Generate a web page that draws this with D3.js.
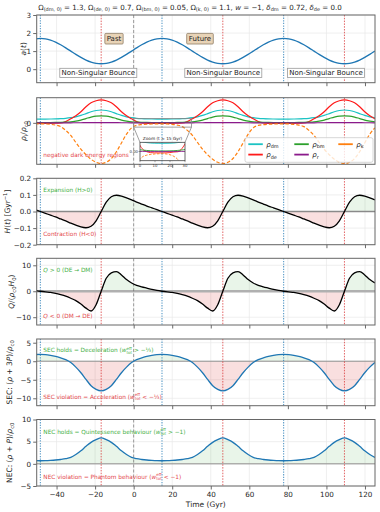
<!DOCTYPE html>
<html>
<head>
<meta charset="utf-8">
<script src="https://cdn.jsdelivr.net/npm/d3@7"></script>
<style>
body { margin: 0; background: #fff; }
svg text { font-family: "DejaVu Sans", sans-serif; }
</style>
</head>
<body>
<svg id="fig" width="380" height="512"></svg>
<script>
// cosmic time (Gyr)
var time = [-51.03,
  -48.40,-45.77,-43.14,-40.51,-37.88,-35.25,-32.62,-30.00,-27.37,-24.74,-22.11,-19.48,
  -16.85,-14.22,-11.59,-8.96,-6.33,-3.70,-1.07,1.55,4.18,6.81,9.44,12.07,
  14.70,17.33,19.96,22.59,25.22,27.85,30.48,33.11,35.73,38.36,40.99,43.62,
  46.25,48.88,51.51,54.14,56.77,59.40,62.03,64.66,67.28,69.91,72.54,75.17,
  77.80,80.43,83.06,85.69,88.32,90.95,93.58,96.21,98.84,101.46,104.09,106.72,
  109.35,111.98,114.61,117.24,119.87,122.50,125.13];

var scaleFactor = [1.676,
  1.70,1.676,1.606,1.495,1.35,1.181,1.0,0.819,0.65,0.505,0.394,0.324,
  0.30,0.324,0.394,0.505,0.65,0.819,1.0,1.181,1.35,1.495,1.606,1.676,
  1.70,1.676,1.606,1.495,1.35,1.181,1.0,0.819,0.65,0.505,0.394,0.324,
  0.30,0.324,0.394,0.505,0.65,0.819,1.0,1.181,1.35,1.495,1.606,1.676,
  1.70,1.676,1.606,1.495,1.35,1.181,1.0,0.819,0.65,0.505,0.394,0.324,
  0.30,0.324,0.394,0.505,0.65,0.819,1.0];

var rhoDM = [0.15,
  0.15,0.15,0.152,0.156,0.165,0.18,0.205,0.24,0.295,0.365,0.44,0.49,
  0.51,0.49,0.44,0.365,0.295,0.24,0.205,0.18,0.165,0.156,0.152,0.15,
  0.15,0.15,0.152,0.156,0.165,0.18,0.205,0.24,0.295,0.365,0.44,0.49,
  0.51,0.49,0.44,0.365,0.295,0.24,0.205,0.18,0.165,0.156,0.152,0.15,
  0.15,0.15,0.152,0.156,0.165,0.18,0.205,0.24,0.295,0.365,0.44,0.49,
  0.51,0.49,0.44,0.365,0.295,0.24,0.205];

var rhoDE = [-0.025,
  -0.025,-0.025,-0.02,-0.01,-0.005,0.05,0.16,0.28,0.44,0.64,0.8,0.88,
  0.91,0.88,0.8,0.64,0.44,0.28,0.16,0.05,0.0,-0.02,-0.025,-0.025,
  -0.025,-0.025,-0.02,-0.01,-0.005,0.05,0.16,0.28,0.44,0.64,0.8,0.88,
  0.91,0.88,0.8,0.64,0.44,0.28,0.16,0.05,0.0,-0.02,-0.025,-0.025,
  -0.025,-0.025,-0.02,-0.01,-0.005,0.05,0.16,0.28,0.44,0.64,0.8,0.88,
  0.91,0.88,0.8,0.64,0.44,0.28,0.16];

var rhoBM = [0.01,
  0.01,0.01,0.012,0.015,0.02,0.028,0.04,0.07,0.11,0.17,0.23,0.27,
  0.28,0.27,0.23,0.17,0.11,0.07,0.04,0.028,0.02,0.015,0.012,0.01,
  0.01,0.01,0.012,0.015,0.02,0.028,0.04,0.07,0.11,0.17,0.23,0.27,
  0.28,0.27,0.23,0.17,0.11,0.07,0.04,0.028,0.02,0.015,0.012,0.01,
  0.01,0.01,0.012,0.015,0.02,0.028,0.04,0.07,0.11,0.17,0.23,0.27,
  0.28,0.27,0.23,0.17,0.11,0.07,0.04];

var rhoR = [0.001,
  0.001,0.001,0.001,0.001,0.001,0.002,0.002,0.003,0.004,0.006,0.008,0.01,
  0.011,0.01,0.008,0.006,0.004,0.003,0.002,0.002,0.001,0.001,0.001,0.001,
  0.001,0.001,0.001,0.001,0.001,0.002,0.002,0.003,0.004,0.006,0.008,0.01,
  0.011,0.01,0.008,0.006,0.004,0.003,0.002,0.002,0.001,0.001,0.001,0.001,
  0.001,0.001,0.001,0.001,0.001,0.002,0.002,0.003,0.004,0.006,0.008,0.01,
  0.011,0.01,0.008,0.006,0.004,0.003,0.002];

var rhoK = [-0.042,
  -0.04,-0.045,-0.06,-0.09,-0.15,-0.3,-0.5,-0.78,-1.05,-1.27,-1.45,-1.57,
  -1.62,-1.57,-1.42,-1.15,-0.8,-0.45,-0.2,-0.1,-0.07,-0.055,-0.047,-0.042,
  -0.04,-0.045,-0.06,-0.09,-0.15,-0.3,-0.5,-0.78,-1.05,-1.27,-1.45,-1.57,
  -1.62,-1.57,-1.42,-1.15,-0.8,-0.45,-0.2,-0.1,-0.07,-0.055,-0.047,-0.042,
  -0.04,-0.045,-0.06,-0.09,-0.15,-0.3,-0.5,-0.78,-1.05,-1.27,-1.45,-1.57,
  -1.62,-1.57,-1.42,-1.15,-0.8,-0.45,-0.2];

var hubble = [0.011,
  0,-0.011,-0.022,-0.033,-0.045,-0.057,-0.070,-0.082,-0.093,-0.098,-0.089,-0.056,
  0,0.056,0.089,0.098,0.093,0.082,0.070,0.057,0.045,0.033,0.022,0.011,
  0,-0.011,-0.022,-0.033,-0.045,-0.057,-0.070,-0.082,-0.093,-0.098,-0.089,-0.056,
  0,0.056,0.089,0.098,0.093,0.082,0.070,0.057,0.045,0.033,0.022,0.011,
  0,-0.011,-0.022,-0.033,-0.045,-0.057,-0.070,-0.082,-0.093,-0.098,-0.089,-0.056,
  0,0.056,0.089,0.098,0.093,0.082,0.070];

var coupling = [0.3,
  0,-0.25,-0.45,-0.8,-1.3,-1.9,-2.7,-3.6,-4.9,-6.5,-7.6,-5.2,
  0,5.0,7.1,7.6,6.3,4.5,3.2,2.3,1.7,1.2,0.7,0.3,
  0,-0.25,-0.45,-0.8,-1.3,-1.9,-2.7,-3.6,-4.9,-6.5,-7.6,-5.2,
  0,5.0,7.1,7.6,6.3,4.5,3.2,2.3,1.7,1.2,0.7,0.3,
  0,-0.25,-0.45,-0.8,-1.3,-1.9,-2.7,-3.6,-4.9,-6.5,-7.6,-5.2,
  0,5.0,7.1,7.6,6.3,4.5,3.2];

var sec = [1.8,
  1.85,1.8,1.6,1.3,0.9,0.45,-0.35,-1.6,-3.1,-4.9,-6.6,-7.6,
  -8.0,-7.6,-6.6,-4.9,-3.1,-1.6,-0.35,0.45,0.9,1.3,1.6,1.8,
  1.85,1.8,1.6,1.3,0.9,0.45,-0.35,-1.6,-3.1,-4.9,-6.6,-7.6,
  -8.0,-7.6,-6.6,-4.9,-3.1,-1.6,-0.35,0.45,0.9,1.3,1.6,1.8,
  1.85,1.8,1.6,1.3,0.9,0.45,-0.35,-1.6,-3.1,-4.9,-6.6,-7.6,
  -8.0,-7.6,-6.6,-4.9,-3.1,-1.6,-0.35];

var nec = [0.72,
  0.7,0.72,0.78,0.86,0.98,1.15,1.45,2.1,2.95,3.95,4.85,5.45,
  5.85,5.45,4.85,3.95,2.95,2.1,1.45,1.15,0.98,0.86,0.78,0.72,
  0.7,0.72,0.78,0.86,0.98,1.15,1.45,2.1,2.95,3.95,4.85,5.45,
  5.85,5.45,4.85,3.95,2.95,2.1,1.45,1.15,0.98,0.86,0.78,0.72,
  0.7,0.72,0.78,0.86,0.98,1.15,1.45,2.1,2.95,3.95,4.85,5.45,
  5.85,5.45,4.85,3.95,2.95,2.1,1.45];

var turnarounds = [-48.4, 14.7, 77.8];
var bounces = [-16.85, 46.25, 109.35];
var xTicks = [-40, -20, 0, 20, 40, 60, 80, 100, 120];

var svg = d3.select("#fig");
var x = d3.scaleLinear().domain([-50.3, 125.2]).range([36.7, 375]);

var GREEN_TXT = "#45b045", RED_TXT = "#e4484c";

// text with sub/superscripts
function rich(sel, parts, size) {
    var shift = 0, last = null;
    parts.forEach(function(p) {
        if (typeof p === "string") p = {t: p};
        var s = size, target = 0;
        if (p.sub) { s = size * 0.7; target = size * 0.28; }
        if (p.sup) { s = size * 0.7; target = -size * 0.42; }
        var ts = sel.append("tspan").text(p.t).attr("font-size", s);
        if (target - shift !== 0) ts.attr("dy", target - shift);
        shift = target;
        if (p.it) ts.attr("font-style", "italic");
        if (p.back && last) ts.attr("dx", -last.node().getComputedTextLength());
        last = ts;
    });
    return sel;
}

function panel(top, bottom, domain, ticks, fmt) {
    var y = d3.scaleLinear().domain(domain).range([bottom, top]);
    var id = "p" + Math.round(top);
    var defs = svg.append("defs");
    defs.append("clipPath").attr("id", id).append("rect")
        .attr("x", x.range()[0]).attr("y", top)
        .attr("width", x.range()[1] - x.range()[0]).attr("height", bottom - top);
    defs.append("clipPath").attr("id", id + "pos").append("rect")
        .attr("x", x.range()[0]).attr("y", top)
        .attr("width", x.range()[1] - x.range()[0]).attr("height", Math.max(0, y(0) - top));
    defs.append("clipPath").attr("id", id + "neg").append("rect")
        .attr("x", x.range()[0]).attr("y", y(0))
        .attr("width", x.range()[1] - x.range()[0]).attr("height", Math.max(0, bottom - y(0)));

    var g = svg.append("g");
    // grid
    g.selectAll(".gx").data(xTicks).enter().append("line")
        .attr("x1", d => x(d)).attr("x2", d => x(d))
        .attr("y1", top).attr("y2", bottom)
        .attr("stroke", "#e8e8e8").attr("stroke-width", 0.7);
    g.selectAll(".gy").data(ticks).enter().append("line")
        .attr("x1", x.range()[0]).attr("x2", x.range()[1])
        .attr("y1", d => y(d)).attr("y2", d => y(d))
        .attr("stroke", "#e8e8e8").attr("stroke-width", 0.7);

    var p = {y: y, g: g, top: top, bottom: bottom, id: id, ticks: ticks, fmt: fmt};
    p.fill = g.append("g");
    p.marks = g.append("g").attr("clip-path", "url(#" + id + ")");
    p.plot = g.append("g").attr("clip-path", "url(#" + id + ")");
    return p;
}

function fillSigned(p, values, posColor, negColor) {
    var area = d3.area()
        .x((d, i) => x(time[i]))
        .y0(p.y(0))
        .y1(d => p.y(d))
        .curve(d3.curveMonotoneX);
    p.fill.append("path").attr("d", area(values))
        .attr("clip-path", "url(#" + p.id + "pos)")
        .attr("fill", posColor).attr("fill-opacity", 0.1);
    p.fill.append("path").attr("d", area(values))
        .attr("clip-path", "url(#" + p.id + "neg)")
        .attr("fill", negColor).attr("fill-opacity", 0.15);
}

function zeroLine(p, color, width) {
    p.marks.append("line")
        .attr("x1", x.range()[0]).attr("x2", x.range()[1])
        .attr("y1", p.y(0)).attr("y2", p.y(0))
        .attr("stroke", color).attr("stroke-width", width);
}

function markers(p) {
    turnarounds.forEach(function(t) {
        p.marks.append("line")
            .attr("x1", x(t)).attr("x2", x(t)).attr("y1", p.top).attr("y2", p.bottom)
            .attr("stroke", "#1f77b4").attr("stroke-opacity", 0.75)
            .attr("stroke-width", 1.1).attr("stroke-dasharray", "1.3,1.3");
    });
    bounces.forEach(function(t) {
        p.marks.append("line")
            .attr("x1", x(t)).attr("x2", x(t)).attr("y1", p.top).attr("y2", p.bottom)
            .attr("stroke", "#d62728").attr("stroke-opacity", 0.8)
            .attr("stroke-width", 0.9).attr("stroke-dasharray", "1.5,1.3");
    });
    p.marks.append("line")
        .attr("x1", x(0)).attr("x2", x(0)).attr("y1", p.top).attr("y2", p.bottom)
        .attr("stroke", "#666").attr("stroke-opacity", 0.8)
        .attr("stroke-width", 0.8).attr("stroke-dasharray", "3,2");
}

function curve(p, values, color, width, dash) {
    var line = d3.line()
        .x((d, i) => x(time[i]))
        .y(d => p.y(d))
        .curve(d3.curveMonotoneX);
    var path = p.plot.append("path").attr("d", line(values))
        .attr("fill", "none").attr("stroke", color).attr("stroke-width", width);
    if (dash) path.attr("stroke-dasharray", dash);
}

function frame(p, showLabels) {
    var ya = p.g.append("g").attr("transform", "translate(" + x.range()[0] + ",0)")
        .call(d3.axisLeft(p.y).tickValues(p.ticks).tickSize(3.5).tickPadding(2).tickFormat(p.fmt));
    var xa = p.g.append("g").attr("transform", "translate(0," + p.bottom + ")")
        .call(d3.axisBottom(x).tickValues(xTicks).tickSize(3.5).tickPadding(2.5)
            .tickFormat(showLabels ? d3.format("d") : ""));
    [ya, xa].forEach(function(a) {
        a.select(".domain").remove();
        a.selectAll(".tick line").attr("stroke", "#444").attr("stroke-width", 0.8);
        a.selectAll(".tick text").attr("fill", "#262626").attr("font-size", 7.2)
            .attr("font-family", "DejaVu Sans");
    });
    p.g.append("rect")
        .attr("x", x.range()[0]).attr("y", p.top)
        .attr("width", x.range()[1] - x.range()[0]).attr("height", p.bottom - p.top)
        .attr("fill", "none").attr("stroke", "#666").attr("stroke-width", 1);
}

function yLabel(p, cx, parts) {
    var cy = (p.top + p.bottom) / 2;
    var t = svg.append("text")
        .attr("transform", "translate(" + cx + "," + cy + ") rotate(-90)")
        .attr("text-anchor", "middle").attr("fill", "#262626");
    rich(t, parts, 7.5);
}

function note(p, yy, color, parts) {
    var t = p.g.append("text").attr("x", 43.3).attr("y", yy).attr("fill", color);
    rich(t, parts, 5.8);
}

var wEff = [{t: "w", it: 1}, {t: "eff", sup: 1}, {t: "tot", sub: 1, back: 1}];

// ---------- title ----------
var title = svg.append("text").attr("x", 190).attr("y", 9.5)
    .attr("text-anchor", "middle").attr("fill", "#262626");
rich(title, [
    "Ω", {t: "(dm, 0)", sub: 1}, " = 1.3,  Ω", {t: "(de, 0)", sub: 1}, " = 0.7,  Ω",
    {t: "(bm, 0)", sub: 1}, " = 0.05,  Ω", {t: "(k, 0)", sub: 1}, " = 1.1,  ",
    {t: "w", it: 1}, " = −1,  ", {t: "δ", it: 1}, {t: "dm", sub: 1}, " = 0.72,  ",
    {t: "δ", it: 1}, {t: "de", sub: 1}, " = 0.0"], 7.1);

// ---------- panel 1: scale factor ----------
var p1 = panel(15, 82.7, [-0.75, 3], [0, 1, 2, 3], d3.format("d"));
markers(p1);
curve(p1, scaleFactor, "#1f77b4", 1.3);
frame(p1, false);
yLabel(p1, 25.5, [{t: "a", it: 1}, "(", {t: "t", it: 1}, ")"]);

[["Past", 114, 18.3], ["Future", 200, 26.6]].forEach(function(b) {
    p1.g.append("rect").attr("x", b[1] - b[2] / 2).attr("y", 33.4)
        .attr("width", b[2]).attr("height", 10.6).attr("rx", 1)
        .attr("fill", "#e8d3b6").attr("stroke", "#8f7d66").attr("stroke-width", 0.8);
    p1.g.append("text").attr("x", b[1]).attr("y", 41.2).attr("text-anchor", "middle")
        .attr("font-size", 7).attr("fill", "#222").text(b[0]);
});
[98.3, 223.3, 326].forEach(function(cx) {
    p1.g.append("rect").attr("x", cx - 38.5).attr("y", 68.3)
        .attr("width", 77).attr("height", 9.2)
        .attr("fill", "#fff").attr("fill-opacity", 0.9)
        .attr("stroke", "#999").attr("stroke-width", 0.8);
    p1.g.append("text").attr("x", cx).attr("y", 75.4).attr("text-anchor", "middle")
        .attr("font-size", 7).attr("fill", "#222").text("Non-Singular Bounce");
});

// ---------- panel 2: densities ----------
var p2 = panel(97.7, 164.3, [-1.65, 1.0], [0], d3.format("d"));
markers(p2);
var rhoSeries = [
    [rhoDM, "#1cc3c3", null],
    [rhoDE, "#ff1a1a", null],
    [rhoBM, "#2ca02c", null],
    [rhoR, "#8b1a8b", null],
    [rhoK, "#ff7f0e", "3.5,2"]
];
rhoSeries.forEach(function(s) { curve(p2, s[0], s[1], 1.2, s[2]); });
frame(p2, false);
yLabel(p2, 25.5, [{t: "ρ", it: 1}, {t: "i", sub: 1}, "/", {t: "ρ", it: 1}, {t: "c0", sub: 1}]);
note(p2, 157, RED_TXT, ["negative dark energy regions"]);

// zoom inset around the turnaround near t = 15 Gyr
var xi = d3.scaleLinear().domain([0, 30]).range([140, 185]);
var yi = d3.scaleLinear().domain([-0.17, 0.17]).range([160.7, 142.3]);
p2.g.append("rect").attr("x", x(0)).attr("y", p2.y(0.17))
    .attr("width", x(30) - x(0)).attr("height", p2.y(-0.17) - p2.y(0.17))
    .attr("fill", "none").attr("stroke", "#888").attr("stroke-width", 0.8);
p2.g.append("line").attr("x1", x(0)).attr("y1", p2.y(-0.17)).attr("x2", 140).attr("y2", 142.3)
    .attr("stroke", "#888").attr("stroke-width", 0.8);
p2.g.append("line").attr("x1", x(30)).attr("y1", p2.y(-0.17)).attr("x2", 185).attr("y2", 142.3)
    .attr("stroke", "#888").attr("stroke-width", 0.8);
svg.append("defs").append("clipPath").attr("id", "inset").append("rect")
    .attr("x", 140).attr("y", 142.3).attr("width", 45).attr("height", 18.4);
var inset = svg.append("g");
inset.append("rect").attr("x", 140).attr("y", 142.3).attr("width", 45).attr("height", 18.4)
    .attr("fill", "#fff");
var insetPlot = inset.append("g").attr("clip-path", "url(#inset)");
rhoSeries.forEach(function(s) {
    var line = d3.line().x((d, i) => xi(time[i])).y(d => yi(d)).curve(d3.curveMonotoneX);
    var path = insetPlot.append("path").attr("d", line(s[0]))
        .attr("fill", "none").attr("stroke", s[1]).attr("stroke-width", 0.9);
    if (s[2]) path.attr("stroke-dasharray", "2.5,1.5");
});
insetPlot.append("line").attr("x1", xi(14.7)).attr("x2", xi(14.7)).attr("y1", 142.3).attr("y2", 160.7)
    .attr("stroke", "#1f77b4").attr("stroke-width", 0.8).attr("stroke-dasharray", "1,1");
inset.append("rect").attr("x", 140).attr("y", 142.3).attr("width", 45).attr("height", 18.4)
    .attr("fill", "none").attr("stroke", "#444").attr("stroke-width", 0.8);
inset.append("text").attr("x", 162.5).attr("y", 139.6).attr("text-anchor", "middle")
    .attr("font-size", 4.3).attr("fill", "#222").text("Zoom (t ≈ 15 Gyr)");
[0, 10, 20, 30].forEach(function(v) {
    inset.append("line").attr("x1", xi(v)).attr("x2", xi(v)).attr("y1", 160.7).attr("y2", 162.2)
        .attr("stroke", "#444").attr("stroke-width", 0.5);
    inset.append("text").attr("x", xi(v)).attr("y", 166.6).attr("text-anchor", "middle")
        .attr("font-size", 3.8).attr("fill", "#333").text(v);
});
inset.append("line").attr("x1", 138.5).attr("x2", 140).attr("y1", yi(0)).attr("y2", yi(0))
    .attr("stroke", "#444").attr("stroke-width", 0.5);
inset.append("text").attr("x", 138).attr("y", yi(0) + 1.3).attr("text-anchor", "end")
    .attr("font-size", 3.8).attr("fill", "#333").text("0.00");

// legend
var legend = svg.append("g");
legend.append("rect").attr("x", 245).attr("y", 137.7).attr("width", 128).attr("height", 24.6)
    .attr("rx", 2).attr("fill", "#fff").attr("fill-opacity", 0.8)
    .attr("stroke", "#ccc").attr("stroke-width", 0.8);
[
    ["dm", "#1cc3c3", 248.3, 144.2],
    ["bm", "#2ca02c", 294.3, 144.2],
    ["k", "#ff7f0e", 338.3, 144.2],
    ["de", "#ff1a1a", 248.3, 154.6],
    ["r", "#8b1a8b", 294.3, 154.6]
].forEach(function(e) {
    legend.append("line").attr("x1", e[2]).attr("x2", e[2] + 14.5).attr("y1", e[3]).attr("y2", e[3])
        .attr("stroke", e[1]).attr("stroke-width", 1.8);
    var t = legend.append("text").attr("x", e[2] + 18).attr("y", e[3] + 2.3).attr("fill", "#222");
    rich(t, [{t: "ρ", it: 1}, {t: e[0], sub: 1}], 7);
});

// ---------- panel 3: Hubble rate ----------
var p3 = panel(178.3, 244.7, [-0.2, 0.2], [-0.2, -0.1, 0, 0.1, 0.2], d3.format(".1f"));
fillSigned(p3, hubble, "#2ca02c", "#d62728");
zeroLine(p3, "#8a8a8a", 1.3);
markers(p3);
curve(p3, hubble, "#000", 1.3);
frame(p3, false);
yLabel(p3, 10, [{t: "H", it: 1}, "(", {t: "t", it: 1}, ") [Gyr", {t: "−1", sup: 1}, "]"]);
note(p3, 192, GREEN_TXT, ["Expansion (H>0)"]);
note(p3, 236.3, RED_TXT, ["Contraction (H<0)"]);

// ---------- panel 4: interaction term ----------
var p4 = panel(258.3, 325, [-13, 12.7], [-10, 0, 10], d3.format("d"));
fillSigned(p4, coupling, "#2ca02c", "#d62728");
zeroLine(p4, "#b0b0b0", 2.5);
markers(p4);
curve(p4, coupling, "#000", 1.3);
frame(p4, false);
yLabel(p4, 14, [{t: "Q", it: 1}, "/(", {t: "ρ", it: 1}, {t: "c0", sub: 1}, {t: "H", it: 1}, {t: "0", sub: 1}, ")"]);
note(p4, 272, GREEN_TXT, [{t: "Q", it: 1}, " > 0 (DE → DM)"]);
note(p4, 318, RED_TXT, [{t: "Q", it: 1}, " < 0 (DM → DE)"]);

// ---------- panel 5: strong energy condition ----------
var p5 = panel(339, 405.7, [-12, 6], [-10, -5, 0, 5], d3.format("d"));
fillSigned(p5, sec, "#2ca02c", "#d62728");
zeroLine(p5, "#888", 0.9);
markers(p5);
curve(p5, sec, "#1f77b4", 1.3);
frame(p5, false);
yLabel(p5, 12, ["SEC: (", {t: "ρ", it: 1}, " + 3", {t: "P", it: 1}, ")/", {t: "ρ", it: 1}, {t: "c0", sub: 1}]);
note(p5, 352, GREEN_TXT, ["SEC holds = Deceleration ("].concat(wEff, [" > −⅓)"]));
note(p5, 398.7, RED_TXT, ["SEC violation = Acceleration ("].concat(wEff, [" < −⅓)"]));

// ---------- panel 6: null energy condition ----------
var p6 = panel(419.5, 486, [-5, 10], [-5, 0, 5, 10], d3.format("d"));
fillSigned(p6, nec, "#2ca02c", "#d62728");
zeroLine(p6, "#888", 0.9);
markers(p6);
curve(p6, nec, "#1f77b4", 1.3);
frame(p6, true);
yLabel(p6, 12, ["NEC: (", {t: "ρ", it: 1}, " + ", {t: "P", it: 1}, ")/", {t: "ρ", it: 1}, {t: "c0", sub: 1}]);
note(p6, 433.7, GREEN_TXT, ["NEC holds = Quintessence behaviour ("].concat(wEff, [" > −1)"]));
note(p6, 478.7, RED_TXT, ["NEC violation = Phantom behaviour ("].concat(wEff, [" < −1)"]));

svg.append("text").attr("x", 205.8).attr("y", 507).attr("text-anchor", "middle")
    .attr("font-size", 7.5).attr("fill", "#262626").text("Time (Gyr)");
</script>
</body>
</html>
